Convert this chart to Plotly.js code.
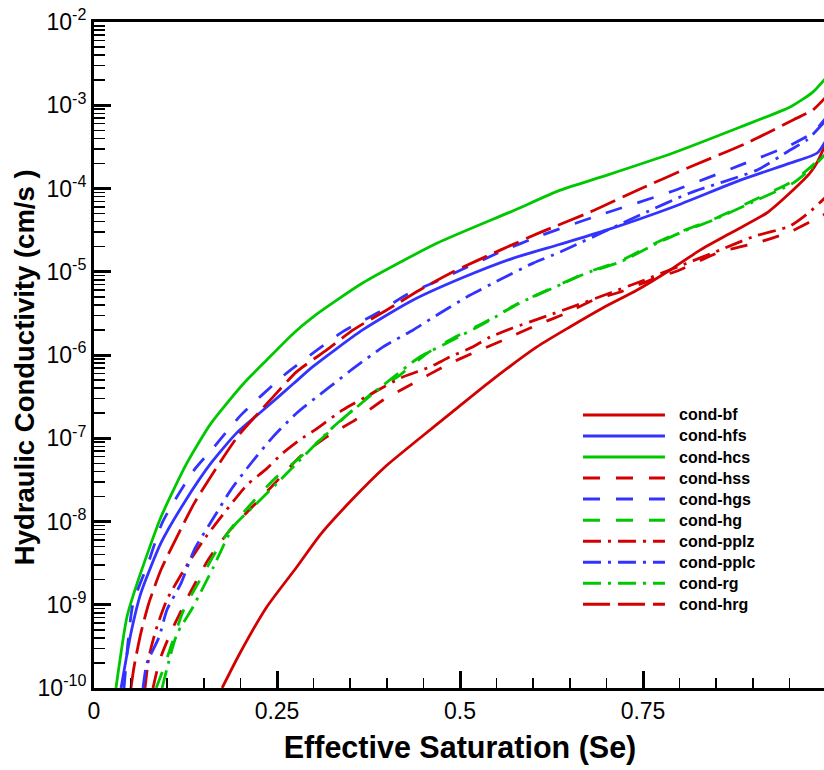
<!DOCTYPE html>
<html>
<head>
<meta charset="utf-8">
<script src="https://cdn.plot.ly/plotly-3.0.1.min.js"></script>
<style>
html,body{margin:0;padding:0;overflow:hidden;background:#fff;}
#chart{width:832px;height:770px;}
</style>
</head>
<body>
<div id="chart"></div>
<script>
// ---- Data (Se, hydraulic conductivity cm/s) ----
const names = ["cond-bf","cond-hfs","cond-hcs","cond-hss","cond-hgs","cond-hg","cond-pplz","cond-pplc","cond-rg","cond-hrg"];

const se_bf = [0.175,0.1995,0.236,0.277,0.309,0.352,0.3975,0.445,0.49,0.541,0.605,0.65,0.695,0.742,0.787,0.828,0.873,0.919,0.955,0.978,0.989,1.0];
const k_bf  = [1e-10,2.63e-10,9.40e-10,2.84e-9,6.92e-9,1.81e-8,4.52e-8,1.0e-7,2.09e-7,4.79e-7,1.25e-6,2.17e-6,3.67e-6,6.03e-6,1.05e-5,1.82e-5,3.02e-5,5.08e-5,9.59e-5,1.53e-4,2.14e-4,3.55e-4];

const se_hfs = [0.037,0.0505,0.064,0.0915,0.123,0.160,0.195,0.236,0.273,0.299,0.367,0.436,0.504,0.572,0.637,0.701,0.791,0.883,0.951,0.988,1.0];
const k_hfs  = [1e-10,4.58e-10,1.38e-9,5.52e-9,1.67e-8,5.05e-8,1.16e-7,2.37e-7,4.57e-7,7.24e-7,2.0e-6,4.57e-6,8.51e-6,1.45e-5,2.14e-5,3.18e-5,6.00e-5,1.26e-4,2.02e-4,2.67e-4,3.80e-4];

const se_hcs = [0.030,0.045,0.059,0.0915,0.127,0.160,0.205,0.236,0.273,0.299,0.367,0.469,0.572,0.637,0.701,0.791,0.883,0.951,0.982,1.0];
const k_hcs  = [1e-10,7.13e-10,1.82e-9,1.13e-8,5.05e-8,1.52e-7,4.61e-7,8.71e-7,1.84e-6,2.86e-6,7.33e-6,2.21e-5,5.37e-5,9.55e-5,1.45e-4,2.67e-4,5.48e-4,9.53e-4,1.44e-3,2.14e-3];

const se_hss = [0.0806,0.090,0.1066,0.131,0.156,0.186,0.216,0.247,0.281,0.318,0.357,0.395,0.432,0.482,0.518,0.559,0.605,0.646,0.682,0.719,0.76,0.80,0.855,0.91,0.951,0.978,1.0];
const k_hss  = [1e-10,2.19e-10,5.01e-10,1.38e-9,3.47e-9,7.94e-9,1.49e-8,2.88e-8,5.96e-8,1.04e-7,1.66e-7,2.88e-7,4.37e-7,7.59e-7,1.06e-6,1.51e-6,2.29e-6,3.20e-6,4.57e-6,5.71e-6,7.94e-6,1.05e-5,1.73e-5,2.28e-5,3.02e-5,3.98e-5,5.0e-5];

const se_hgs = [0.041,0.053,0.074,0.094,0.137,0.164,0.201,0.26,0.305,0.34,0.387,0.428,0.463,0.51,0.555,0.609,0.691,0.791,0.883,0.951,0.982,1.0];
const k_hgs  = [1e-10,1e-9,3.16e-9,1e-8,4.17e-8,7.85e-8,1.91e-7,5.75e-7,1.15e-6,1.91e-6,3.20e-6,5.37e-6,7.33e-6,1.14e-5,1.73e-5,2.69e-5,4.81e-5,9.33e-5,1.91e-4,3.31e-4,4.68e-4,7.08e-4];

const se_hg = [0.085,0.0956,0.123,0.145,0.176,0.2035,0.245,0.272,0.309,0.346,0.377,0.418,0.455,0.49,0.537,0.582,0.627,0.673,0.719,0.764,0.80,0.846,0.906,0.955,0.982,1.0];
const k_hg  = [1e-10,1.78e-10,8.91e-10,2.0e-9,6.03e-9,1.26e-8,3.16e-8,5.01e-8,9.55e-8,1.91e-7,3.31e-7,5.75e-7,1.05e-6,1.58e-6,2.57e-6,4.27e-6,6.46e-6,9.77e-6,1.35e-5,2.14e-5,2.99e-5,4.27e-5,7.59e-5,1.23e-4,1.91e-4,2.75e-4];

const se_pplz = [0.0697,0.075,0.0847,0.0997,0.123,0.150,0.1776,0.209,0.234,0.258,0.281,0.302,0.34,0.381,0.422,0.459,0.486,0.514,0.541,0.572,0.619,0.66,0.705,0.746,0.80,0.855,0.90,0.951,0.978,1.0];
const k_pplz  = [1e-10,2.34e-10,5.01e-10,1.15e-9,2.63e-9,6.03e-9,1.26e-8,2.75e-8,4.17e-8,6.65e-8,9.55e-8,1.26e-7,2.19e-7,3.50e-7,5.45e-7,7.18e-7,9.46e-7,1.21e-6,1.64e-6,2.11e-6,2.95e-6,3.98e-6,5.56e-6,7.59e-6,1.17e-5,1.82e-5,2.63e-5,3.55e-5,5.25e-5,7.94e-5];

const se_pplc = [0.067,0.0724,0.0888,0.0997,0.119,0.137,0.164,0.187,0.2145,0.2445,0.277,0.318,0.357,0.395,0.436,0.473,0.514,0.559,0.60,0.637,0.746,0.814,0.906,0.951,0.974,1.0];
const k_pplc  = [1e-10,2.0e-10,4.07e-10,8.71e-10,1.82e-9,4.57e-9,1.13e-8,2.40e-8,5.01e-8,1.04e-7,2.01e-7,3.89e-7,7.18e-7,1.25e-6,2.0e-6,3.20e-6,5.25e-6,8.41e-6,1.27e-5,1.73e-5,4.81e-5,8.83e-5,1.67e-4,2.90e-4,3.83e-4,6.61e-4];

const se_rg = [0.093,0.113,0.135,0.163,0.19,0.217,0.25,0.277,0.3265,0.359,0.404,0.445,0.49,0.537,0.582,0.627,0.673,0.719,0.764,0.80,0.846,0.906,0.955,0.982,1.0];
const k_rg  = [1e-10,4.37e-10,9.33e-10,2.82e-9,8.59e-9,1.49e-8,2.88e-8,5.01e-8,1.36e-7,2.37e-7,5.01e-7,9.46e-7,1.51e-6,2.51e-6,4.22e-6,6.38e-6,9.66e-6,1.31e-5,2.09e-5,2.92e-5,4.19e-5,7.28e-5,1.16e-4,1.81e-4,2.63e-4];

const se_hrg = [0.0505,0.0546,0.064,0.075,0.0915,0.113,0.137,0.168,0.197,0.245,0.277,0.318,0.354,0.40,0.445,0.49,0.555,0.609,0.678,0.746,0.814,0.892,0.955,0.982,1.0];
const k_hrg  = [1e-10,1.78e-10,4.57e-10,1.05e-9,2.63e-9,6.46e-9,1.66e-8,4.52e-8,1.07e-7,3.16e-7,6.31e-7,1.15e-6,2.0e-6,3.47e-6,6.03e-6,9.93e-6,1.82e-5,2.95e-5,5.22e-5,9.86e-5,1.81e-4,3.52e-4,6.65e-4,8.77e-4,1.26e-3];

const xTickVals = [0, 0.25, 0.5, 0.75, 1];
const xTickText = ["0", "0.25", "0.5", "0.75", "1"];
const yTickVals = [1e-10,1e-9,1e-8,1e-7,1e-6,1e-5,1e-4,1e-3,1e-2];
const yTickText = ["10<sup>-10</sup>","10<sup>-9</sup>","10<sup>-8</sup>","10<sup>-7</sup>","10<sup>-6</sup>","10<sup>-5</sup>","10<sup>-4</sup>","10<sup>-3</sup>","10<sup>-2</sup>"];
const xTitle = "Effective Saturation (Se)";
const yTitle = "Hydraulic Conductivity (cm/s )";

// ---- Styles ----
const RED = "#d20000", BLUE = "#3333ff", GREEN = "#00c800";
const DASH = "17px,16px", DASHDOT = "18px,7px,3px,7px", LONGDASH = "27px,8px";
const series = [
  {x: se_bf,   y: k_bf,   color: RED,   dash: "solid"},
  {x: se_hfs,  y: k_hfs,  color: BLUE,  dash: "solid"},
  {x: se_hcs,  y: k_hcs,  color: GREEN, dash: "solid"},
  {x: se_hss,  y: k_hss,  color: RED,   dash: DASH},
  {x: se_hgs,  y: k_hgs,  color: BLUE,  dash: DASH},
  {x: se_hg,   y: k_hg,   color: GREEN, dash: DASH},
  {x: se_pplz, y: k_pplz, color: RED,   dash: DASHDOT},
  {x: se_pplc, y: k_pplc, color: BLUE,  dash: DASHDOT},
  {x: se_rg,   y: k_rg,   color: GREEN, dash: DASHDOT},
  {x: se_hrg,  y: k_hrg,  color: RED,   dash: LONGDASH}
];
const LW = 2.8;
const FONT = "Liberation Sans, Arial, Helvetica, sans-serif";

const traces = series.map((s, i) => ({
  type: "scatter", mode: "lines", name: names[i],
  x: s.x, y: s.y,
  line: {color: s.color, width: LW, dash: s.dash, shape: "spline", smoothing: 0.6},
  showlegend: false, hoverinfo: "x+y+name"
}));

// custom legend (long sample lines like the reference)
const shapes = [], annotations = [];
const legTop = 0.41, legStep = 0.0316;
names.forEach((n, i) => {
  const yy = legTop - i * legStep;
  shapes.push({type: "line", xref: "paper", yref: "paper", x0: 0.668, x1: 0.780, y0: yy, y1: yy,
    line: {color: series[i].color, width: 3, dash: series[i].dash}});
  annotations.push({xref: "paper", yref: "paper", x: 0.796, y: yy, xanchor: "left", yanchor: "middle",
    text: "<b>" + n + "</b>", showarrow: false, font: {family: FONT, size: 16, color: "#000"}});
});
// y axis title (placed like the reference, close to the tick labels)
annotations.push({xref: "paper", yref: "paper", x: -0.094, y: 0.482, xanchor: "center", yanchor: "middle",
  textangle: -90, text: "<b>" + yTitle + "</b>", showarrow: false,
  font: {family: FONT, size: 27.5, color: "#000"}});

const layout = {
  width: 832, height: 770,
  margin: {l: 94, r: 6, t: 22, b: 82},
  paper_bgcolor: "#fff", plot_bgcolor: "#fff",
  font: {family: FONT, color: "#000"},
  showlegend: false,
  xaxis: {
    range: [0, 1], tickvals: xTickVals, ticktext: xTickText,
    ticks: "inside", ticklen: 17, tickwidth: 3, tickcolor: "#000",
    minor: {dtick: 0.05, ticks: "inside", ticklen: 10, tickwidth: 1.5, tickcolor: "#000", showgrid: false},
    showline: true, linewidth: 3, linecolor: "#000", mirror: true,
    showgrid: false, zeroline: false,
    tickfont: {family: FONT, size: 23, color: "#000"},
    title: {text: "<b>" + xTitle + "</b>", font: {family: FONT, size: 30.5, color: "#000"}, standoff: 15}
  },
  yaxis: {
    type: "log", range: [-10, -2], tickvals: yTickVals, ticktext: yTickText,
    ticks: "inside", ticklen: 17, tickwidth: 3, tickcolor: "#000",
    minor: {dtick: "D1", ticks: "inside", ticklen: 11, tickwidth: 1.5, tickcolor: "#000", showgrid: false},
    showline: true, linewidth: 3, linecolor: "#000", mirror: true,
    showgrid: false, zeroline: false,
    tickfont: {family: FONT, size: 23, color: "#000"}
  },
  shapes: shapes,
  annotations: annotations
};

Plotly.newPlot("chart", traces, layout, {displayModeBar: false, staticPlot: true});
</script>
</body>
</html>
